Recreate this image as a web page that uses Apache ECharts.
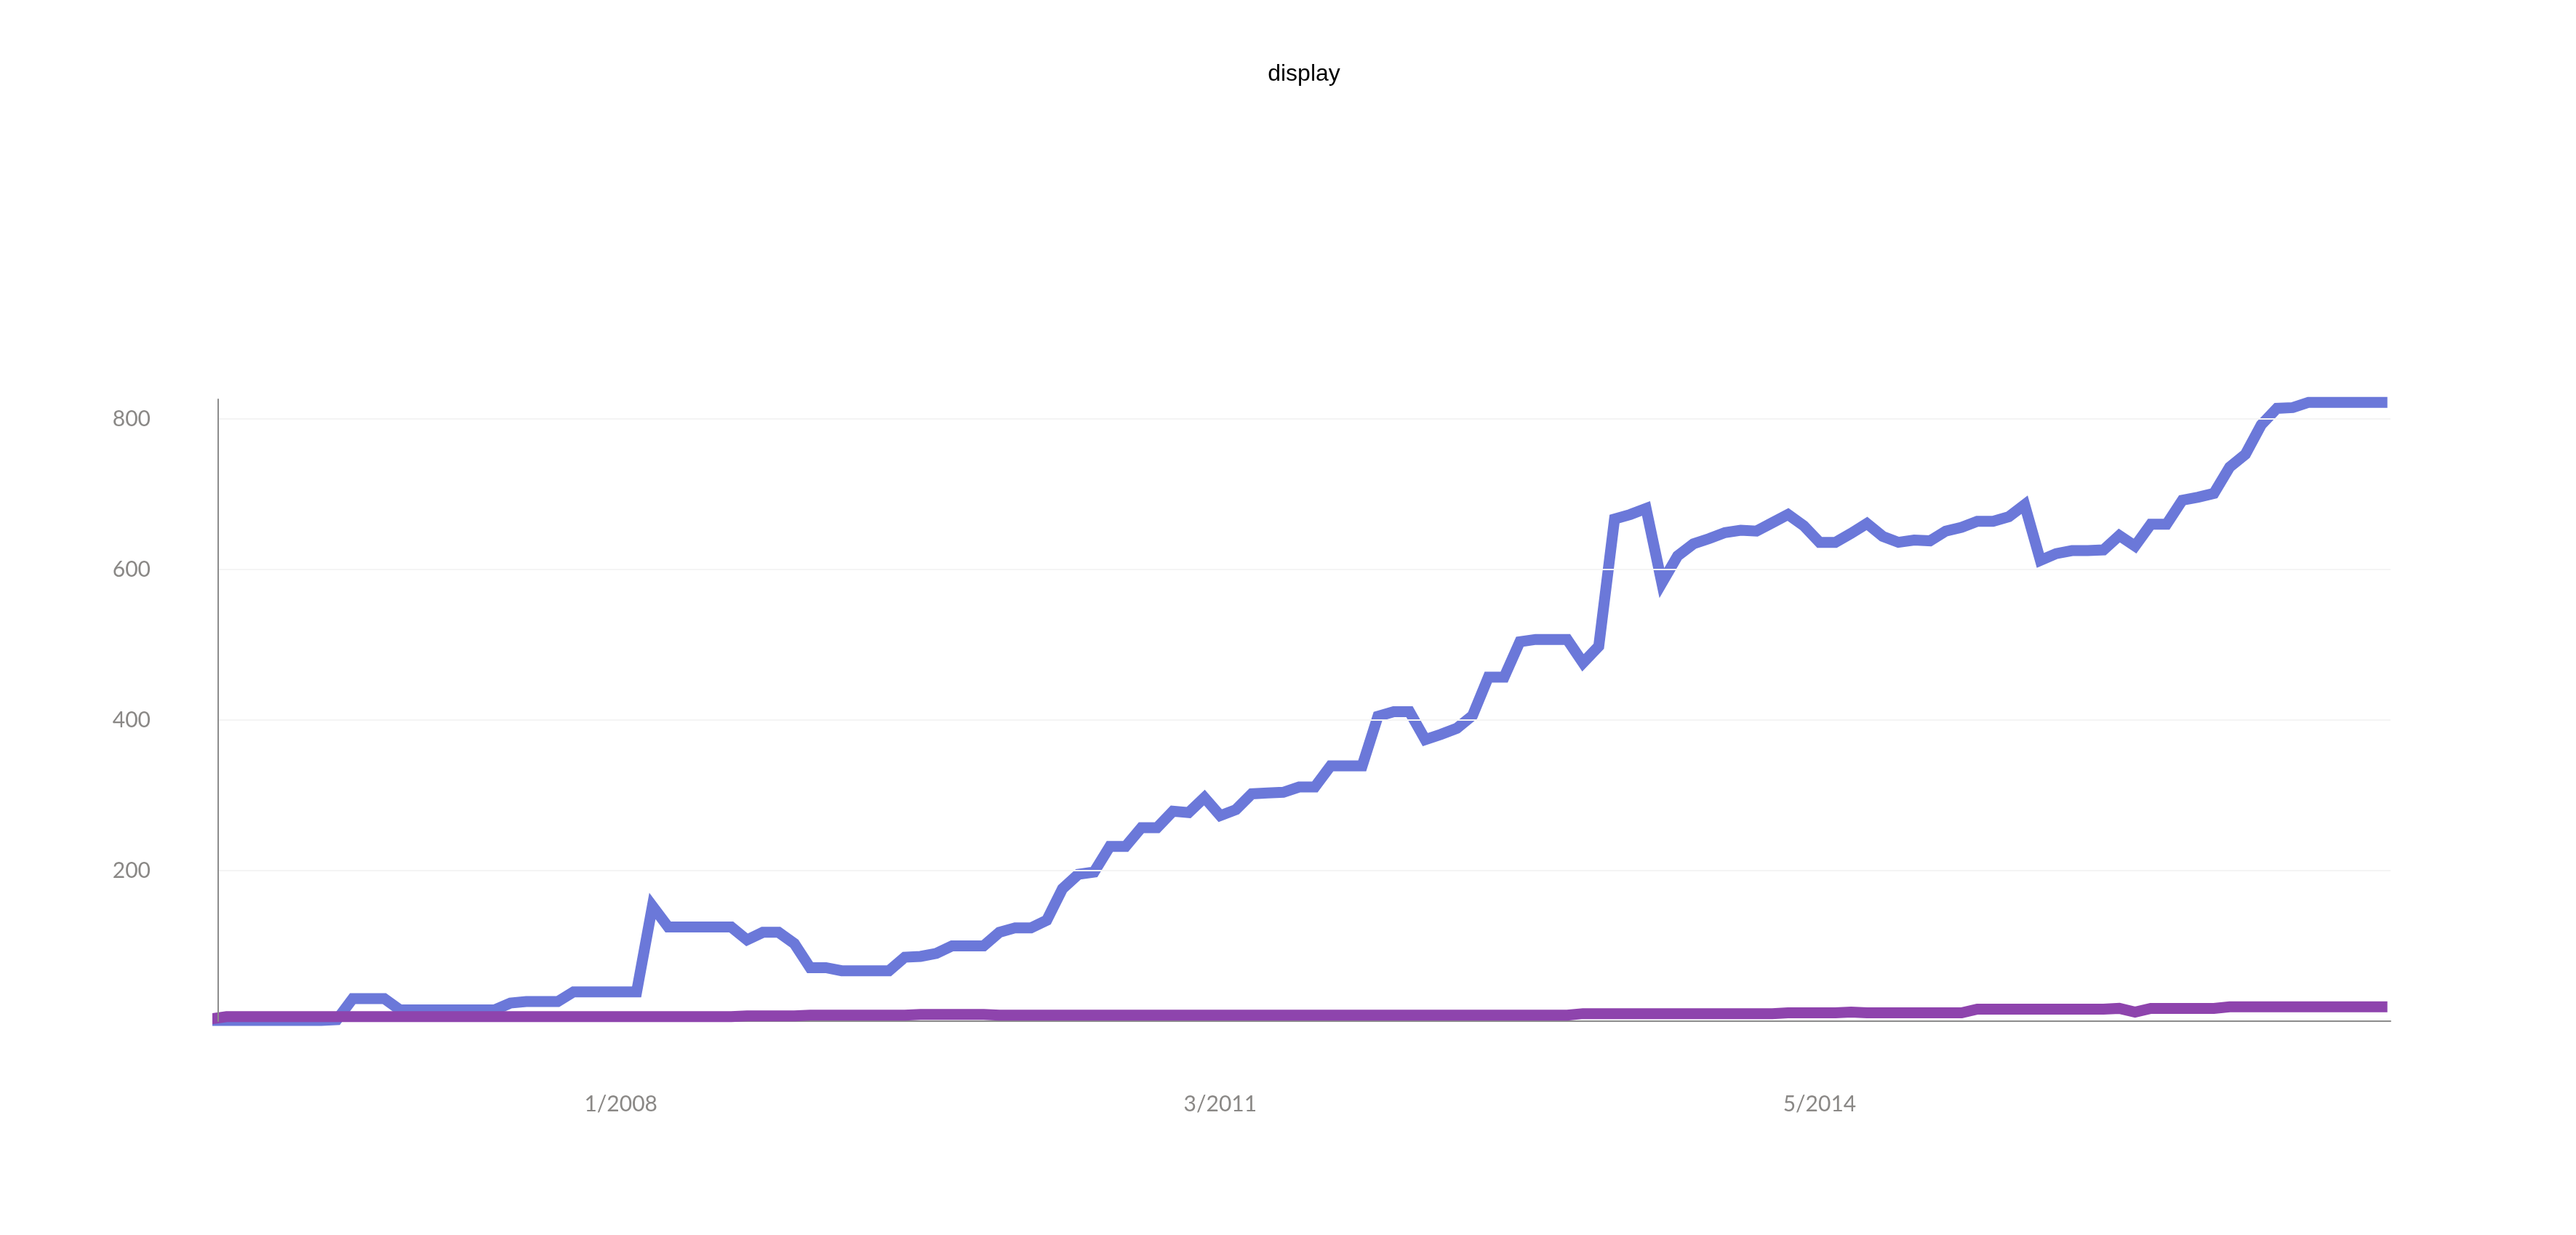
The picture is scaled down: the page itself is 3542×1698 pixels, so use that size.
<!DOCTYPE html>
<html>
<head>
<meta charset="utf-8">
<script src="https://cdn.jsdelivr.net/npm/echarts@6/dist/echarts.min.js"></script>
<style>
html,body{margin:0;padding:0;background:#fff;}
#chart{width:3542px;height:1698px;}
</style>
</head>
<body>
<div id="chart"></div>
<script>
const titleText = 'display';

const months = [
'11/2005','12/2005',
'1/2006','2/2006','3/2006','4/2006','5/2006','6/2006','7/2006','8/2006','9/2006','10/2006','11/2006','12/2006',
'1/2007','2/2007','3/2007','4/2007','5/2007','6/2007','7/2007','8/2007','9/2007','10/2007','11/2007','12/2007',
'1/2008','2/2008','3/2008','4/2008','5/2008','6/2008','7/2008','8/2008','9/2008','10/2008','11/2008','12/2008',
'1/2009','2/2009','3/2009','4/2009','5/2009','6/2009','7/2009','8/2009','9/2009','10/2009','11/2009','12/2009',
'1/2010','2/2010','3/2010','4/2010','5/2010','6/2010','7/2010','8/2010','9/2010','10/2010','11/2010','12/2010',
'1/2011','2/2011','3/2011','4/2011','5/2011','6/2011','7/2011','8/2011','9/2011','10/2011','11/2011','12/2011',
'1/2012','2/2012','3/2012','4/2012','5/2012','6/2012','7/2012','8/2012','9/2012','10/2012','11/2012','12/2012',
'1/2013','2/2013','3/2013','4/2013','5/2013','6/2013','7/2013','8/2013','9/2013','10/2013','11/2013','12/2013',
'1/2014','2/2014','3/2014','4/2014','5/2014','6/2014','7/2014','8/2014','9/2014','10/2014','11/2014','12/2014',
'1/2015','2/2015','3/2015','4/2015','5/2015','6/2015','7/2015','8/2015','9/2015','10/2015','11/2015','12/2015',
'1/2016','2/2016','3/2016','4/2016','5/2016','6/2016','7/2016','8/2016','9/2016','10/2016','11/2016','12/2016',
'1/2017','2/2017','3/2017','4/2017','5/2017'
];

const xTickLabels = ['1/2008', '3/2011', '5/2014'];
const yTickLabels = [200, 400, 600, 800];

const blueSeries = [
1,1,1,1,1,1,1,1,2,30,
30,30,15,15,15,15,15,15,15,24,
26,26,26,39,39,39,39,39,153,125,
125,125,125,125,108,118,118,103,71,71,
67,67,67,67,85,86,90,100,100,100,
118,124,124,134,176,195,198,232,232,257,
257,279,277,297,273,281,302,303,304,311,
311,339,339,339,405,411,411,374,381,389,
406,457,457,504,507,507,507,476,498,667,
673,681,582,618,634,641,649,652,651,662,
673,658,636,636,648,661,644,636,639,638,
651,656,664,664,670,686,612,621,625,625,
626,645,631,660,660,692,696,701,736,753,
792,814,815,822,822,822,822,822,822
];

const purpleSeries = [
3,6,6,6,6,6,6,6,6,6,
6,6,6,6,6,6,6,6,6,6,
6,6,6,6,6,6,6,6,6,6,
6,6,6,6,7,7,7,7,8,8,
8,8,8,8,8,9,9,9,9,9,
8,8,8,8,8,8,8,8,8,8,
8,8,8,8,8,8,8,8,8,8,
8,8,8,8,8,8,8,8,8,8,
8,8,8,8,8,8,8,10,10,10,
10,10,10,10,10,10,10,10,10,10,
11,11,11,11,12,11,11,11,11,11,
11,11,16,16,16,16,16,16,16,16,
16,17,12,17,17,17,17,17,19,19,
19,19,19,19,19,19,19,19,19
];

// month index of each point (position on the x value axis)
const toPairs = arr => arr.map((v, i) => [i, v]);
const xLabelIndices = xTickLabels.map(l => months.indexOf(l));

const chart = echarts.init(document.getElementById('chart'), null, {renderer: 'canvas'});

const labelFont = 'Lato, "Open Sans", sans-serif';

chart.setOption({
  animation: false,
  backgroundColor: '#ffffff',
  title: {
    text: titleText,
    left: 1793,
    top: 86,
    padding: 0,
    textAlign: 'center',
    textVerticalAlign: 'top',
    textStyle: {
      fontSize: 32,
      fontWeight: 'normal',
      color: '#000000',
      fontFamily: '"Liberation Sans", Arial, Helvetica, sans-serif'
    }
  },
  grid: {
    left: 300,
    right: 255,
    top: 549,
    bottom: 294,
    containLabel: false
  },
  xAxis: {
    type: 'value',
    min: 0.47,
    max: 138.2,
    axisLine: {show: true, onZero: false, lineStyle: {color: '#8c8c8c', width: 2}},
    axisTick: {show: false},
    splitLine: {show: false},
    axisLabel: {
      customValues: xLabelIndices,
      formatter: function (v) { return months[Math.round(v)]; },
      margin: 99,
      fontSize: 30,
      color: '#8a8886',
      fontFamily: labelFont
    }
  },
  yAxis: {
    type: 'value',
    min: 0,
    max: 826,
    interval: 200,
    z: 3,
    axisLine: {show: true, lineStyle: {color: '#8c8c8c', width: 2}},
    axisTick: {show: false},
    splitLine: {
      show: true,
      showMinLine: false,
      showMaxLine: false,
      lineStyle: {color: '#f4f4f4', width: 2}
    },
    axisLabel: {
      margin: 93,
      fontSize: 30,
      color: '#8a8886',
      fontFamily: labelFont,
      showMinLabel: false,
      showMaxLabel: false,
      formatter: function (v) { return yTickLabels.indexOf(v) !== -1 ? String(v) : ''; }
    }
  },
  series: [
    {
      name: 'blue',
      type: 'line',
      data: toPairs(blueSeries),
      symbol: 'none',
      z: 2,
      lineStyle: {color: '#6b78d9', width: 15, join: 'miter', miterLimit: 10, cap: 'butt'},
      itemStyle: {color: '#6b78d9'}
    },
    {
      name: 'purple',
      type: 'line',
      data: toPairs(purpleSeries),
      symbol: 'none',
      z: 2,
      lineStyle: {color: '#8e44ad', width: 15, join: 'miter', miterLimit: 10, cap: 'butt'},
      itemStyle: {color: '#8e44ad'}
    }
  ]
});
</script>
</body>
</html>
